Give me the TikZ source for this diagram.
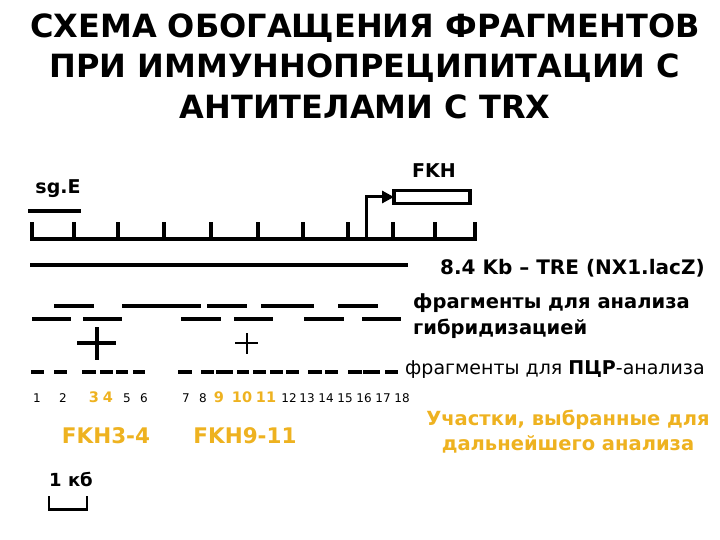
\documentclass[tikz,border=0pt]{standalone}
\usepackage{fontspec}
\setmainfont{DejaVu Sans}
\usepackage{xcolor}
\usetikzlibrary{arrows.meta, positioning}
\definecolor{ocre}{RGB}{238,178,32}
\tikzstyle{fragmento} = [line width=4.5pt]
\tikzstyle{marca} = [line width=3.5pt]
\tikzstyle{etiqueta} = [font=\bfseries\fontsize{19}{26}\selectfont, inner sep=0pt]
\tikzstyle{numero} = [font=\fontsize{12}{14}\selectfont, inner sep=0pt]
\tikzstyle{elegido} = [font=\bfseries\fontsize{14.5}{17}\selectfont, text=ocre, inner sep=0pt]
\tikzstyle{sitio} = [font=\bfseries\fontsize{21.5}{24}\selectfont, text=ocre, inner sep=0pt]

\begin{document}
\begin{tikzpicture}[x=1pt, y=-1pt]
	\useasboundingbox (0,0) rectangle (720,540);
	\node[font=\bfseries\fontsize{32}{40.5}\selectfont, align=center, inner sep=0pt] (titulo) at (365,66)
		{СХЕМА ОБОГАЩЕНИЯ ФРАГМЕНТОВ\\ПРИ ИММУННОПРЕЦИПИТАЦИИ С\\АНТИТЕЛАМИ С TRX};
	\node[etiqueta] (sge) at (58,189) {sg.E};
	\draw[fragmento] (28,211) -- (81,211);
	\draw[marca] (30,239) -- (477,239);
	\foreach \x in {32,74,118,164,211,258,303,348,393,435,475}
		\draw[marca] (\x,239) -- (\x,222);
	\node[etiqueta] (fkh) at (434,171) {FKH};
	\node[draw, line width=3.5pt, minimum width=76pt, minimum height=13pt, inner sep=0pt, outer sep=0pt, anchor=west] (caja) at (394,197) {};
	\coordinate (inicio) at (366,239);
	\draw[line width=3pt, -{Triangle[length=12pt, width=12pt]}] (inicio) |- (caja.west);
	\draw[fragmento] (30,265) -- (408,265);
	\node[etiqueta, font=\bfseries\fontsize{20}{24}\selectfont, anchor=west] (tre) at (440,268) {8.4 Kb – TRE (NX1.lacZ)};
	\foreach \a/\b in {54/94,122/201,207/247,261/314,338/378}
		\draw[fragmento] (\a,306) -- (\b,306);
	\foreach \a/\b in {32/71,83/122,181/221,234/273,304/344,362/401}
		\draw[fragmento] (\a,319) -- (\b,319);
	\draw[fragmento] (97,327) -- (97,360) (77,343) -- (116,343);
	\draw[line width=2.5pt] (247,333) -- (247,354) (235,343) -- (258,343);
	\foreach \a/\b in {31/44,54/67,82/96,100/113,116/128,133/145,178/192,201/214,216/233,237/249,253/266,270/283,286/299,308/322,325/338,348/362,363/380,385/398}
		\draw[fragmento] (\a,372) -- (\b,372);
	\node[etiqueta, font=\bfseries\fontsize{19.5}{26}\selectfont, anchor=west, align=left] (hibrid) at (413,316) {фрагменты для анализа\\гибридизацией};
	\node[anchor=west, inner sep=0pt, font=\fontsize{19}{22}\selectfont] (pcr) at (405,370) {фрагменты для \textbf{ПЦР}-анализа};
	\foreach \x/\n in {37/1,63/2,127/5,144/6,186/7,203/8,289/12,307/13,326/14,345/15,364/16,383/17,402/18}
		\node[numero] (n\n) at (\x,398) {\n};
	\foreach \x/\n in {94/3,108/4,219/9,242/10,266/11}
		\node[elegido] (n\n) at (\x,397) {\n};
	\node[sitio] (fkha) at (106,436) {FKH3-4};
	\node[sitio] (fkhb) at (245,436) {FKH9-11};
	\node[etiqueta, font=\bfseries\fontsize{19.5}{25}\selectfont, text=ocre, align=center] (elegidos) at (568,432) {Участки, выбранные для\\дальнейшего анализа};
	\node[etiqueta, font=\bfseries\fontsize{18}{20}\selectfont] (escala) at (71,479) {1 кб};
	\draw[line width=1.2pt] (49,496) -- (49,509) -- (87,509) -- (87,496);
	\draw[line width=3pt] (48.4,509) -- (87.6,509);
\end{tikzpicture}
\end{document}
